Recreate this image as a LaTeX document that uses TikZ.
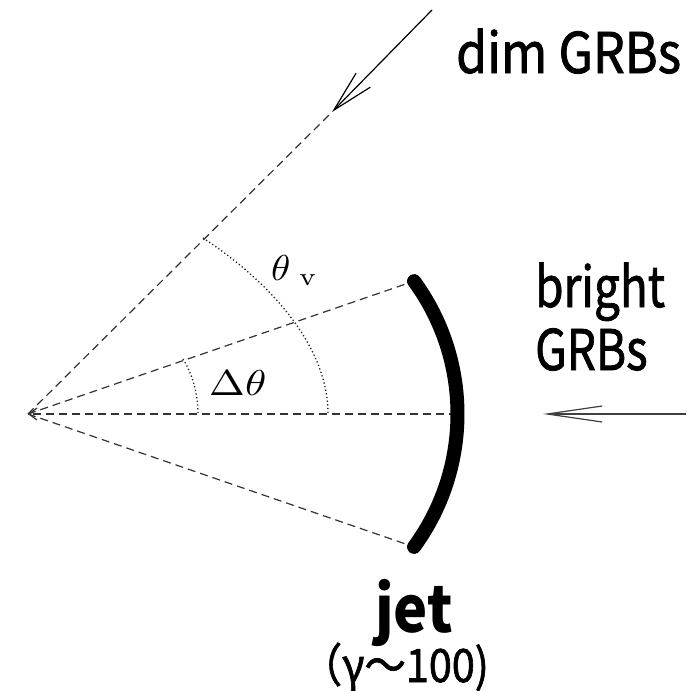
\documentclass[tikz,border=0pt]{standalone}
\usepackage{graphicx}
\usepackage{fontspec}
\newfontfamily\jp[FakeBold=1.5]{Noto Sans CJK JP}
\newfontfamily\jpb{Noto Sans CJK JP}
\usetikzlibrary{arrows.meta}
\begin{document}
\begin{tikzpicture}[x=1pt,y=-1pt,
  dsh/.style={line width=1.2pt, black!80, dash pattern=on 8pt off 5pt},
  dot/.style={line width=1.3pt, black!85, dash pattern=on 1.3pt off 2.4pt},
  lbl/.style={inner sep=0pt, xscale=0.82, font=\jp\fontsize{56}{60}\selectfont},
  mth/.style={inner sep=0pt}]
\useasboundingbox (0,0) rectangle (686,691);
\fill[white] (0,0) rectangle (686,691);
\coordinate (O) at (28,414);
\coordinate (C) at (232.5,414);
\coordinate (jt) at ([shift={(-36.2:225)}]C);
\coordinate (jb) at ([shift={(36.2:225)}]C);
\coordinate (jm) at (457,414);
\coordinate (A) at (332,112);
\coordinate (S) at (432,10);
\coordinate (R) at (686,414);
\coordinate (Rt) at (543,414);
% dotted angle arcs
\coordinate (d1) at (183,359);
\coordinate (d2) at (198,414);
\coordinate (v1) at (203,238);
\coordinate (v2) at (328,414);
% dashed rays
\draw[dsh] (O) -- (jt);
\draw[dsh] (O) -- (jb);
\draw[dsh] (O) -- (A);
\draw[dsh, -{Straight Barb[length=8pt,width=12pt,line width=1.2pt]}] (jm) -- (O);
% dotted arcs
\draw[dot] (d1) .. controls (193,375) and (198,395) .. (d2);
\draw[dot] (v1) .. controls (260,275) and (328,340) .. (v2);
% jet
\draw[line width=14pt, line cap=round] (jt) arc[start angle=-36.2, end angle=36.2, radius=225];
% incoming arrows
\draw[line width=1.2pt, -{Straight Barb[length=42pt,width=20pt]}] (S) -- (A);
\draw[line width=1.2pt, black!75, -{Straight Barb[length=55pt,width=16pt]}] (R) -- (Rt);
% labels
\node[mth, anchor=base west] (tv) at (271,280) {\scalebox{3.9}[3.6]{$\theta_{\kern2.5pt\mathrm{v}}$}};
\node[mth, anchor=base west] (dt) at (209,395) {\scalebox{4.3}[3.6]{$\Delta\theta$}};
\node[lbl, xscale=1.09, anchor=base west] (dim) at (456,73) {dim GRBs};
\node[lbl, anchor=base west] (br) at (535,307) {bright};
\node[lbl, anchor=base west] (grb) at (535,370) {GRBs};
\node[inner sep=0pt, xscale=0.9, font=\jpb\bfseries\fontsize{64}{70}\selectfont, anchor=base] (jet) at (414,632) {jet};
\node[inner sep=0pt, xscale=0.9, font=\jp\fontsize{46}{50}\selectfont, anchor=base east] (gam) at (489,682) {（γ～100)};
\end{tikzpicture}
\end{document}
